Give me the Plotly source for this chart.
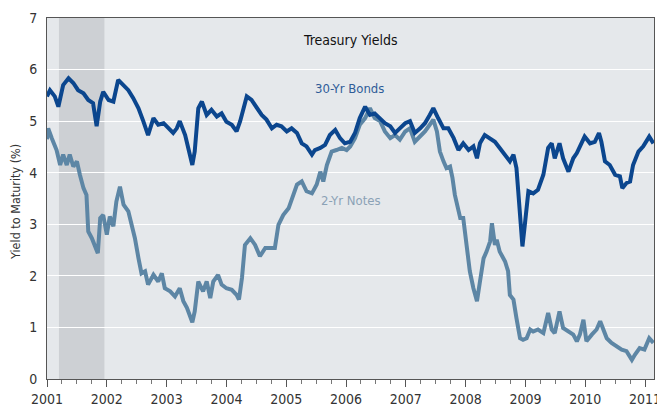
import plotly.graph_objects as go

# 30-Yr Bonds (decimal year, yield %)
bond_x = [2001.00, 2001.05, 2001.13, 2001.19, 2001.27, 2001.36, 2001.44, 2001.52, 2001.61, 2001.69,
          2001.77, 2001.83, 2001.89, 2001.94, 2002.03, 2002.11, 2002.19, 2002.28, 2002.36, 2002.44,
          2002.53, 2002.61, 2002.69, 2002.78, 2002.86, 2002.95, 2003.03, 2003.11, 2003.17, 2003.22,
          2003.31, 2003.36, 2003.40, 2003.43, 2003.47, 2003.53, 2003.59, 2003.67, 2003.75, 2003.84,
          2003.92, 2004.00, 2004.09, 2004.17, 2004.23, 2004.28, 2004.34, 2004.42, 2004.51, 2004.59,
          2004.67, 2004.76, 2004.84, 2004.92, 2005.01, 2005.09, 2005.18, 2005.26, 2005.34, 2005.43,
          2005.48, 2005.57, 2005.65, 2005.73, 2005.82, 2005.90, 2005.98, 2006.07, 2006.15, 2006.23,
          2006.32, 2006.40, 2006.48, 2006.57, 2006.65, 2006.74, 2006.82, 2006.90, 2006.99, 2007.07,
          2007.15, 2007.24, 2007.32, 2007.40, 2007.46, 2007.54, 2007.63, 2007.71, 2007.80, 2007.88,
          2007.96, 2008.05, 2008.13, 2008.19, 2008.24, 2008.32, 2008.41, 2008.49, 2008.57, 2008.66,
          2008.74, 2008.80, 2008.85, 2008.88, 2008.91, 2008.95, 2008.99, 2009.05, 2009.13, 2009.21,
          2009.30, 2009.38, 2009.44, 2009.49, 2009.57, 2009.63, 2009.72, 2009.80, 2009.86, 2009.94,
          2009.99, 2010.08, 2010.16, 2010.23, 2010.27, 2010.33, 2010.41, 2010.50, 2010.58, 2010.62,
          2010.69, 2010.75, 2010.80, 2010.89, 2010.97, 2011.07, 2011.14]
bond_y = [5.48, 5.60, 5.48, 5.28, 5.70, 5.83, 5.74, 5.60, 5.54, 5.41,
          5.35, 4.90, 5.38, 5.57, 5.41, 5.38, 5.80, 5.70, 5.60, 5.45,
          5.25, 5.00, 4.73, 5.06, 4.93, 4.96, 4.86, 4.77, 4.86, 5.00,
          4.73, 4.48, 4.22, 4.15, 4.41, 5.25, 5.38, 5.12, 5.22, 5.09,
          5.15, 4.99, 4.93, 4.80, 5.00, 5.25, 5.48, 5.41, 5.25, 5.12,
          5.03, 4.86, 4.93, 4.90, 4.80, 4.86, 4.77, 4.57, 4.51, 4.35,
          4.44, 4.48, 4.54, 4.73, 4.83, 4.67, 4.57, 4.60, 4.77, 5.06,
          5.28, 5.12, 5.15, 5.06, 4.96, 4.90, 4.77, 4.86, 4.96, 5.00,
          4.77, 4.86, 4.96, 5.12, 5.25, 5.06, 4.86, 4.86, 4.67, 4.44,
          4.57, 4.44, 4.51, 4.28, 4.57, 4.73, 4.67, 4.60, 4.48, 4.35,
          4.22, 4.35, 4.09, 3.64, 3.12, 2.57, 2.99, 3.64, 3.60, 3.67,
          3.96, 4.48, 4.57, 4.28, 4.57, 4.28, 4.02, 4.28, 4.38, 4.60,
          4.70, 4.57, 4.60, 4.77, 4.60, 4.22, 4.15, 3.96, 3.93, 3.70,
          3.80, 3.83, 4.15, 4.41, 4.51, 4.70, 4.57]

# 2-Yr Notes (decimal year, yield %)
note_x = [2001.00, 2001.02, 2001.08, 2001.16, 2001.22, 2001.27, 2001.33, 2001.38, 2001.44, 2001.50,
          2001.55, 2001.61, 2001.66, 2001.69, 2001.75, 2001.80, 2001.85, 2001.89, 2001.94, 2002.00,
          2002.05, 2002.11, 2002.16, 2002.22, 2002.28, 2002.36, 2002.42, 2002.47, 2002.53, 2002.58,
          2002.64, 2002.69, 2002.78, 2002.86, 2002.92, 2002.97, 2003.06, 2003.14, 2003.22, 2003.28,
          2003.34, 2003.43, 2003.47, 2003.53, 2003.61, 2003.67, 2003.73, 2003.78, 2003.86, 2003.92,
          2004.00, 2004.09, 2004.17, 2004.21, 2004.26, 2004.31, 2004.40, 2004.48, 2004.56, 2004.65,
          2004.73, 2004.81, 2004.87, 2004.95, 2005.04, 2005.09, 2005.18, 2005.26, 2005.34, 2005.43,
          2005.51, 2005.57, 2005.62, 2005.68, 2005.76, 2005.84, 2005.93, 2006.01, 2006.07, 2006.15,
          2006.23, 2006.32, 2006.40, 2006.48, 2006.57, 2006.65, 2006.74, 2006.82, 2006.90, 2006.99,
          2007.07, 2007.15, 2007.24, 2007.32, 2007.40, 2007.46, 2007.52, 2007.57, 2007.63, 2007.68,
          2007.74, 2007.78, 2007.82, 2007.88, 2007.91, 2007.96, 2008.02, 2008.07, 2008.13, 2008.19,
          2008.24, 2008.30, 2008.35, 2008.41, 2008.44, 2008.49, 2008.52, 2008.57, 2008.66, 2008.71,
          2008.74, 2008.80, 2008.85, 2008.91, 2008.96, 2009.02, 2009.08, 2009.13, 2009.21, 2009.30,
          2009.38, 2009.44, 2009.49, 2009.57, 2009.63, 2009.72, 2009.80, 2009.86, 2009.91, 2009.97,
          2010.02, 2010.11, 2010.19, 2010.25, 2010.30, 2010.36, 2010.44, 2010.52, 2010.61, 2010.69,
          2010.78, 2010.83, 2010.91, 2010.99, 2011.07, 2011.14]
note_y = [4.65, 4.86, 4.67, 4.44, 4.15, 4.35, 4.15, 4.35, 4.12, 4.22,
          3.96, 3.70, 3.57, 2.86, 2.73, 2.60, 2.44, 3.12, 3.18, 2.80,
          3.15, 2.96, 3.44, 3.73, 3.38, 3.25, 2.99, 2.73, 2.34, 2.05,
          2.09, 1.83, 2.02, 1.89, 2.05, 1.76, 1.70, 1.60, 1.76, 1.51,
          1.38, 1.10, 1.31, 1.89, 1.70, 1.89, 1.57, 1.89, 2.02, 1.83,
          1.76, 1.73, 1.63, 1.54, 1.96, 2.60, 2.73, 2.60, 2.38, 2.54,
          2.54, 2.54, 2.99, 3.18, 3.31, 3.48, 3.77, 3.83, 3.64, 3.60,
          3.77, 4.02, 3.83, 4.15, 4.41, 4.44, 4.48, 4.44, 4.51, 4.67,
          4.93, 5.06, 5.25, 5.06, 5.00, 4.80, 4.67, 4.73, 4.64, 4.80,
          4.86, 4.60, 4.70, 4.80, 4.93, 5.03, 4.80, 4.41, 4.22, 4.09,
          4.12, 3.90, 3.57, 3.31, 3.12, 3.12, 2.60, 2.09, 1.76, 1.51,
          1.89, 2.34, 2.47, 2.67, 3.02, 2.60, 2.70, 2.47, 2.28, 2.09,
          1.63, 1.54, 1.18, 0.79, 0.76, 0.79, 0.96, 0.92, 0.96, 0.89,
          1.28, 0.96, 0.89, 1.31, 0.99, 0.92, 0.86, 0.73, 0.86, 1.15,
          0.73, 0.86, 0.96, 1.12, 0.96, 0.79, 0.70, 0.63, 0.57, 0.54,
          0.37, 0.47, 0.60, 0.57, 0.79, 0.70]

year_ticks = [2001, 2002, 2003, 2004, 2005, 2006, 2007, 2008, 2009, 2010, 2011]
year_labels = ["2001", "2002", "2003", "2004", "2005", "2006", "2007", "2008", "2009", "2010", "2011"]
recession = [2001.20, 2001.96]

FONT = "DejaVu Sans Condensed, Liberation Sans Narrow, Arial Narrow, sans-serif"

fig = go.Figure()
fig.add_trace(go.Scatter(x=note_x, y=note_y, mode="lines", name="2-Yr Notes",
                         line=dict(color="#5d86a5", width=4)))
fig.add_trace(go.Scatter(x=bond_x, y=bond_y, mode="lines", name="30-Yr Bonds",
                         line=dict(color="#0b468e", width=4)))

fig.add_shape(type="rect", xref="x", yref="paper", x0=recession[0], x1=recession[1], y0=0, y1=1,
              fillcolor="#cdd0d4", line=dict(width=0), layer="below")

fig.add_annotation(x=2006.08, y=6.57, text="Treasury Yields", showarrow=False,
                   font=dict(family=FONT, size=14, color="#111111"))
fig.add_annotation(x=2006.05, y=5.64, text="30-Yr Bonds", showarrow=False,
                   font=dict(family=FONT, size=13, color="#2f5c98"))
fig.add_annotation(x=2006.08, y=3.47, text="2-Yr Notes", showarrow=False,
                   font=dict(family=FONT, size=13, color="#8ba2b6"))
fig.add_annotation(xref="paper", yref="paper", x=-0.053, y=0.49, xanchor="center", yanchor="middle",
                   text="Yield to Maturity (%)", textangle=-90, showarrow=False,
                   font=dict(family=FONT, size=12.5, color="#333333"))

fig.update_layout(
    width=657, height=413,
    margin=dict(l=47, r=3, t=18, b=34, autoexpand=False),
    paper_bgcolor="white", plot_bgcolor="#e5e8eb",
    showlegend=False, hovermode=False,
    font=dict(family=FONT, size=14, color="#333333"),
)
fig.update_xaxes(range=[2001, 2011.15], tickvals=year_ticks, ticktext=year_labels,
                 showgrid=False, zeroline=False, automargin=False, ticklabeloverflow="allow",
                 showline=True, linecolor="#555555", linewidth=1, mirror=True,
                 ticks="outside", ticklen=7, tickcolor="#555555",
                 minor=dict(dtick=0.25, ticks="outside", ticklen=4, tickcolor="#777777", showgrid=False),
                 tickfont=dict(family=FONT, size=14, color="#333333"))
fig.update_yaxes(range=[0, 7], dtick=1, showgrid=True, gridcolor="white", gridwidth=1,
                 zeroline=False, automargin=False, showline=True, linecolor="#555555", linewidth=1,
                 mirror=True, ticks="", ticklabelstandoff=6,
                 tickfont=dict(family=FONT, size=14, color="#333333"))

fig.write_html("out.html", config={"displayModeBar": False, "staticPlot": True},
               post_script="document.body.style.margin='0';")
